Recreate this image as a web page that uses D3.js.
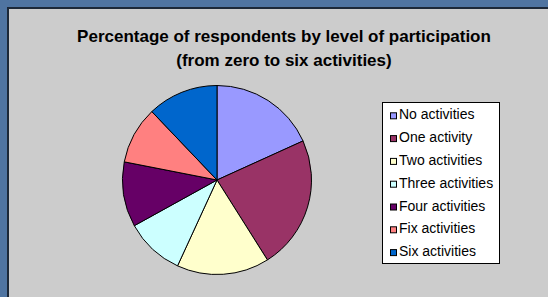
<!DOCTYPE html>
<html>
<head>
<meta charset="utf-8">
<script src="https://cdn.jsdelivr.net/npm/d3@7"></script>
<style>
  body { margin: 0; }
  svg { display: block; }
</style>
</head>
<body>
<svg id="chart" width="548" height="297"></svg>
<script>
var categories = ["No activities", "One activity", "Two activities", "Three activities",
  "Four activities", "Fix activities", "Six activities"];
var percentages = [18.2, 22.8, 15.8, 10.1, 11.1, 9.8, 12.1];
var sliceColors = ["#9999FF", "#993366", "#FFFFCC", "#CCFFFF", "#660066", "#FF8080", "#0066CC"];
var titleLines = ["Percentage of respondents by level of participation", "(from zero to six activities)"];

var svg = d3.select("#chart");
var width = +svg.attr("width");
var height = +svg.attr("height");

// blue slide background + grey chart panel
svg.append("rect").attr("width", width).attr("height", height).attr("fill", "#4f74a1");
svg.append("rect").attr("x", 7).attr("y", 7).attr("width", width).attr("height", height)
  .attr("fill", "#1c2838");
svg.append("rect").attr("x", 9).attr("y", 9).attr("width", width).attr("height", height)
  .attr("fill", "#cccccc");

// title
svg.append("g")
  .attr("font-family", "'Liberation Sans', Arial, sans-serif")
  .attr("font-weight", "bold")
  .attr("font-size", "17px")
  .attr("text-anchor", "middle")
  .attr("fill", "#000")
  .selectAll("text")
  .data(titleLines)
  .enter()
  .append("text")
  .attr("x", 284)
  .attr("y", function (d, i) { return 41.5 + i * 24; })
  .text(function (d) { return d; });

// pie
var radius = 94.5;
var color = d3.scaleOrdinal().domain(categories).range(sliceColors);
var pie = d3.pie().sort(null).value(function (d) { return d.value; });
var arc = d3.arc().innerRadius(0).outerRadius(radius);

var data = categories.map(function (c, i) { return { name: c, value: percentages[i] }; });

svg.append("g")
  .attr("transform", "translate(217,180)")
  .selectAll("path")
  .data(pie(data))
  .enter()
  .append("path")
  .attr("d", arc)
  .attr("fill", function (d) { return color(d.data.name); })
  .attr("stroke", "#000")
  .attr("stroke-width", 1)
  .attr("stroke-linejoin", "round");

// legend
var legend = svg.append("g").attr("transform", "translate(382,102)");
legend.append("rect")
  .attr("x", 0.5).attr("y", 0.5)
  .attr("width", 117).attr("height", 161)
  .attr("fill", "#fff")
  .attr("stroke", "#000");

var item = legend.selectAll("g.item")
  .data(categories)
  .enter()
  .append("g")
  .attr("class", "item")
  .attr("transform", function (d, i) { return "translate(0," + (17.3 + i * 22.8) + ")"; });

item.append("rect")
  .attr("x", 8.5).attr("y", -6.5)
  .attr("width", 6).attr("height", 6)
  .attr("fill", color)
  .attr("stroke", "#000");

item.append("text")
  .attr("x", 17)
  .attr("y", 0)
  .attr("font-family", "'Liberation Sans', Arial, sans-serif")
  .attr("font-size", "14px")
  .attr("fill", "#000")
  .text(function (d) { return d; });
</script>
</body>
</html>
